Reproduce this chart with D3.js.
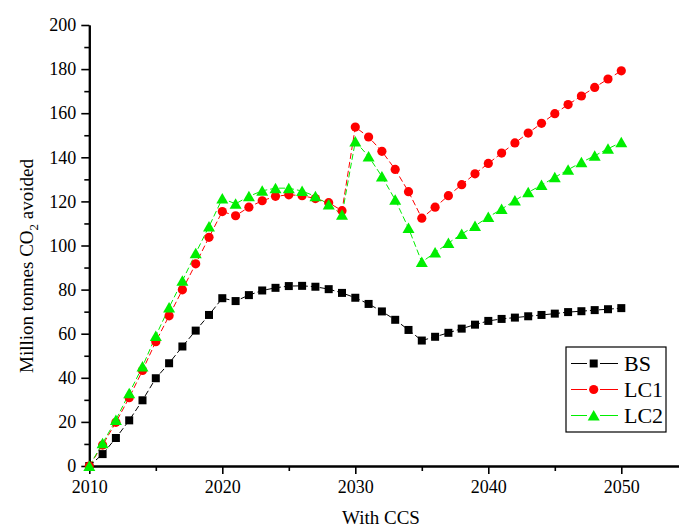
<!DOCTYPE html>
<html>
<head>
<meta charset="utf-8">
<script src="https://cdn.jsdelivr.net/npm/d3@7"></script>
<style>
  body { margin: 0; background: #fff; }
  svg { display: block; font-family: "Liberation Serif", "Times New Roman", serif; }
</style>
</head>
<body>
<svg id="chart" width="679" height="531"></svg>
<script>
const years = [2010, 2011, 2012, 2013, 2014, 2015, 2016, 2017, 2018, 2019,
  2020, 2021, 2022, 2023, 2024, 2025, 2026, 2027, 2028, 2029,
  2030, 2031, 2032, 2033, 2034, 2035, 2036, 2037, 2038, 2039,
  2040, 2041, 2042, 2043, 2044, 2045, 2046, 2047, 2048, 2049, 2050]

const bs = [0, 5.4, 12.7, 20.7, 29.8, 39.8, 46.6, 54.2, 61.4, 68.5,
  76.1, 74.8, 77.5, 79.6, 80.8, 81.6, 81.7, 81.3, 80.2, 78.5,
  76.3, 73.5, 70.1, 66.3, 61.7, 56.9, 58.6, 60.4, 62.3, 64.1,
  65.8, 66.7, 67.3, 67.9, 68.5, 69.1, 69.8, 70.2, 70.7, 71.1, 71.6]

const lc1 = [0, 9.5, 19.8, 31, 43.3, 56.4, 68.1, 79.9, 91.7, 103.7,
  115.4, 113.5, 117.4, 120.3, 122.3, 123, 122.6, 121.3, 119.4, 115.8,
  153.7, 149.2, 142.7, 134.5, 124.4, 112.4, 117.4, 122.6, 127.6, 132.5,
  137.2, 141.9, 146.5, 151, 155.4, 159.8, 163.9, 167.8, 171.7, 175.5, 179.2]

const lc2 = [0, 10.3, 20.9, 33, 45.1, 59, 71.9, 84, 96.5, 108.6,
  121.3, 118.9, 122.3, 124.8, 126, 126, 124.7, 122.3, 118.6, 113.9,
  147.2, 140.4, 131.3, 120.7, 107.9, 92.5, 96.8, 101.1, 105.2, 108.9,
  112.9, 116.5, 120.4, 124.1, 127.4, 130.9, 134.4, 137.7, 140.7, 143.9, 146.8]

const seriesNames = ["BS", "LC1", "LC2"]
const seriesColors = ["#000000", "#ff0000", "#00ee00"]
const xTicks = [2010, 2020, 2030, 2040, 2050]
const yTicks = [0, 20, 40, 60, 80, 100, 120, 140, 160, 180, 200]

const svg = d3.select("#chart")

// scales: 2010 sits on the y axis, the x axis runs on past the right edge
const x = d3.scaleLinear().domain([2010, 2055]).range([89.3, 687.8])
const y = d3.scaleLinear().domain([0, 200]).range([466, 25])

// markers
const square = (g) => g.append("rect")
  .attr("x", -4).attr("y", -4).attr("width", 8).attr("height", 8)
const circle = (g) => g.append("circle").attr("r", 4.6)
const triangle = (g) => g.append("path").attr("d", "M0,-5.5L6,5L-6,5Z")
const markers = [square, circle, triangle]

const series = [bs, lc1, lc2].map((vals, i) => ({
  name: seriesNames[i],
  color: seriesColors[i],
  marker: markers[i],
  points: years.map((yr, j) => ({ year: yr, value: vals[j] }))
}))

// axes
const xMajor = d3.axisBottom(x).tickValues(xTicks).tickFormat(d3.format("d"))
  .tickSizeInner(8).tickSizeOuter(0).tickPadding(6)
const xMinor = d3.axisBottom(x).tickValues([2015, 2025, 2035, 2045])
  .tickFormat("").tickSizeInner(5).tickSizeOuter(0)
const yMajor = d3.axisLeft(y).tickValues(yTicks).tickSizeInner(8).tickSizeOuter(0).tickPadding(5)
const yMinor = d3.axisLeft(y).tickValues(d3.range(10, 200, 20))
  .tickFormat("").tickSizeInner(5).tickSizeOuter(0)

const styleAxis = (g) => {
  g.attr("font-family", null).attr("font-size", null)
  g.selectAll(".domain").attr("stroke", "#000").attr("stroke-width", 2)
  g.selectAll(".tick line").attr("stroke", "#000").attr("stroke-width", 1.6)
  g.selectAll(".tick text").attr("fill", "#000").style("font-size", "18px")
}

svg.append("g").attr("transform", "translate(0,466)").call(xMinor).call(styleAxis)
svg.append("g").attr("transform", "translate(0,466)").call(xMajor).call(styleAxis)
svg.append("g").attr("transform", "translate(89.3,0)").call(yMinor).call(styleAxis)
svg.append("g").attr("transform", "translate(89.3,0)").call(yMajor).call(styleAxis)

// axis titles
svg.append("text")
  .attr("x", 381).attr("y", 524)
  .attr("text-anchor", "middle")
  .style("font-size", "19px")
  .text("With CCS")

const yTitle = svg.append("text")
  .attr("transform", "translate(33,266) rotate(-90)")
  .attr("text-anchor", "middle")
  .style("font-size", "19px")
yTitle.append("tspan").text("Million tonnes CO")
yTitle.append("tspan").attr("dy", 5).style("font-size", "13px").text("2")
yTitle.append("tspan").attr("dy", -5).text(" avoided")

// lines and markers
const line = d3.line().x((d) => x(d.year)).y((d) => y(d.value))

series.forEach((s) => {
  svg.append("path")
    .datum(s.points)
    .attr("fill", "none")
    .attr("stroke", s.color)
    .attr("stroke-width", 1)
    .attr("stroke-dasharray", "6,3")
    .attr("d", line)
})

series.forEach((s) => {
  svg.append("g")
    .selectAll("g")
    .data(s.points)
    .join("g")
    .attr("transform", (d) => `translate(${x(d.year)},${y(d.value)})`)
    .attr("fill", s.color)
    .each(function () { s.marker(d3.select(this)) })
})

// legend
const legend = svg.append("g")
legend.append("rect")
  .attr("x", 566).attr("y", 347).attr("width", 100).attr("height", 85)
  .attr("fill", "#fff").attr("stroke", "#000").attr("stroke-width", 1.2)

series.forEach((s, i) => {
  const row = legend.append("g").attr("transform", `translate(0,${363.5 + i * 26})`)
  row.append("line").attr("x1", 571).attr("x2", 587).attr("stroke", s.color).attr("stroke-width", 1)
  row.append("line").attr("x1", 600).attr("x2", 618).attr("stroke", s.color).attr("stroke-width", 1)
  const m = row.append("g").attr("transform", "translate(593.7,0)").attr("fill", s.color)
  s.marker(m)
  row.append("text")
    .attr("x", 624).attr("y", 7.5)
    .style("font-size", "22px")
    .text(s.name)
})
</script>
</body>
</html>
